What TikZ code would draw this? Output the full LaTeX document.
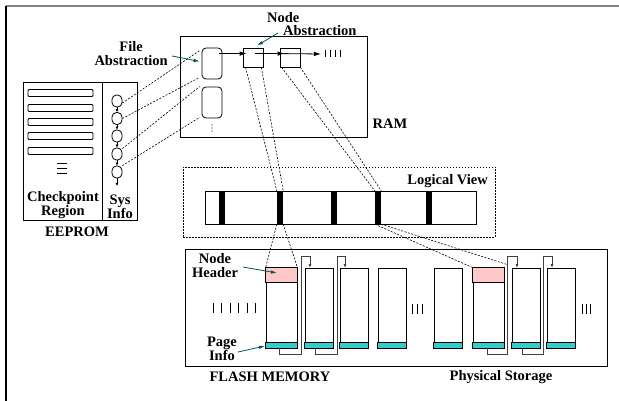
\documentclass[tikz,border=0pt]{standalone}
\usepackage{fontspec}
\setmainfont{Liberation Serif}
\usetikzlibrary{arrows.meta,calc}
\definecolor{hdrpink}{RGB}{255,200,200}
\definecolor{infocyan}{RGB}{50,205,205}
\definecolor{callout}{RGB}{0,85,85}
\tikzset{
  lbl/.style={font=\fontsize{14.5}{14}\selectfont\bfseries, inner sep=0pt, align=center},
  box/.style={draw, line width=0.8pt, inner sep=0pt, fill=white},
  map/.style={line width=0.6pt, dash pattern=on 2pt off 1.5pt},
  ptr/.style={line width=0.8pt, -{Latex[length=7pt,width=4.5pt]}},
  tinyptr/.style={line width=0.7pt, -{Latex[length=3pt,width=3pt]}},
  link/.style={draw=black!75, line width=0.8pt},
  linkend/.style={draw=black!75, line width=0.8pt, -{Latex[length=4pt,width=3pt]}},
  callarrow/.style={draw=callout, line width=0.8pt, -{Latex[length=6pt,width=3.5pt]}},
  page/.style={box, minimum height=80pt},
  slot/.style={box, minimum width=65pt, minimum height=7pt, rounded corners=1pt},
  sysrec/.style={box, minimum width=10pt, minimum height=12pt, rounded corners=4.5pt},
  filerec/.style={box, minimum width=20pt, minimum height=31pt, rounded corners=4pt},
  nodesq/.style={box, minimum width=20pt, minimum height=19pt},
  seg/.style={fill=black, inner sep=0pt, minimum width=6pt, minimum height=33pt},
}
\begin{document}
\begin{tikzpicture}[x=1pt,y=-1pt]
\useasboundingbox (0,0) rectangle (619,401);

% outer frame edges
\draw[black!50, line width=2pt] (6,6) -- (619,6);
\draw[black, line width=1.3pt] (6,6) -- (6,401);

% ---------------- EEPROM ----------------
\node[box, minimum width=114pt, minimum height=138pt] (eeprom) at (80,151) {};
\draw[line width=0.8pt] (102,82) -- (102,220);
\foreach \i/\y in {1/93,2/108,3/122,4/136,5/151}
  \node[slot] (slot\i) at (60.5,\y) {};
\foreach \y in {163,168,173}
  \draw[line width=0.6pt] (57,\y) -- (67,\y);
\foreach \i/\y in {1/101,2/118.5,3/136,4/154,5/172}
  \node[sysrec] (o\i) at (117,\y) {};
\draw[tinyptr] (o1.south) -- (o2.north);
\draw[tinyptr] (o2.south) -- (o3.north);
\draw[tinyptr] (o3.south) -- (o4.north);
\draw[tinyptr] (o4.south) -- (o5.north);
\coordinate (sysend) at (117,186);
\draw[tinyptr] (o5.south) -- (sysend);
\node[lbl] (cpreg) at (63,205) {Checkpoint\\Region};
\node[lbl] (sysinfo) at (120,207) {Sys\\Info};
\node[lbl] (eepromlbl) at (77,232) {EEPROM};

% ---------------- RAM ----------------
\node[box, minimum width=187pt, minimum height=101pt] (ram) at (273.5,86.5) {};
\node[lbl] (ramlbl) at (390,124) {RAM};
\node[filerec] (f1) at (212,63.5) {};
\node[filerec] (f2) at (212,102.5) {};
\foreach \y in {125,128,131}
  \fill (212,\y) circle (0.6pt);
\node[nodesq] (n1) at (253,57.5) {};
\node[nodesq] (n2) at (290,57.5) {};
\coordinate (ptrend) at (321,54);
\draw[ptr] ($(f1.north east)+(-3,6)$) -- ($(n1.north west)+(4,6)$);
\draw[ptr] ($(n1.north east)+(-8,6)$) -- ($(n2.north west)+(5,6)$);
\draw[ptr] ($(n2.north west)+(4,6)$) -- (ptrend);
\foreach \x in {325,330,335,340}
  \draw[line width=0.7pt] (\x,50) -- (\x,57);

\node[lbl, anchor=east] (filelbl) at (168,54) {File\\Abstraction};
\node[lbl, anchor=west] (nodelbl) at (267,17.5) {Node};
\node[lbl, anchor=west] (abslbl) at (283,31) {Abstraction};
\draw[callarrow] (172,56) -- ($(f1.west)+(-2,-2)$);
\draw[callarrow] (278,33) -- ($(n1.north)+(4,-2)$);

% sys info -> file abstraction
\draw[map] ($(o1.east)+(0,2)$) -- ($(f1.north west)+(-2,3)$);
\draw[map] (o2.east) -- ($(f1.south west)+(-2,-2)$);
\draw[map] ($(o4.north east)+(0,1)$) -- ($(f2.north west)+(-2,0)$);
\draw[map] ($(o5.north east)+(0,0)$) -- ($(f2.south west)+(-2,-1)$);

% ---------------- Logical view ----------------
\node[draw, line width=0.7pt, dash pattern=on 1.5pt off 1.5pt, minimum width=312pt, minimum height=70pt] (lview) at (339,202) {};
\node[lbl, anchor=east] (lviewlbl) at (488,181) {Logical View};
\node[box, minimum width=271pt, minimum height=33pt] (lbar) at (340.5,207.5) {};
\foreach \i/\x in {1/221.5,2/280,3/334,4/378,5/429}
  \node[seg] (seg\i) at (\x,207.5) {};

% node abstraction -> logical view
\draw[map] ($(n1.south west)+(3,0)$) -- (seg2.north west);
\draw[map] ($(n1.south east)+(-2,0)$) -- (seg2.north east);
\draw[map] ($(n2.south west)+(2,0)$) -- (seg4.north west);
\draw[map] (n2.south east) -- (seg4.north east);

% ---------------- Flash memory ----------------
\node[box, minimum width=422pt, minimum height=117pt] (flash) at (396,307.5) {};
\node[lbl] (flashlbl) at (270,377) {FLASH MEMORY};
\node[lbl] (physlbl) at (501,377) {Physical Storage};

\foreach \i/\x/\w in {1/281.5/31,2/319/28,3/354/28,4/392/28,5/448/28,6/488.5/31,7/526/28,8/561/28}{
  \node[page, minimum width=\w pt] (p\i) at (\x,308) {};
  \draw[line width=0.8pt, fill=infocyan] ($(p\i.south west)+(0,-6)$) rectangle (p\i.south east);
}
\draw[line width=0.8pt, fill=hdrpink] (p1.north west) rectangle ($(p1.north east)+(0,15)$);
\draw[line width=0.8pt, fill=hdrpink] (p6.north west) rectangle ($(p6.north east)+(0,15)$);

% page chains
\foreach \a/\b/\sx/\ux/\ex in {1/2/279/301/310, 2/3/315/337/345, 6/7/487/507/517, 7/8/522/543/552}{
  \draw[link] (\sx,348) -- (\sx,354) -- (\ux,354) -- (\ux,256) -- (\ex,256);
  \draw[linkend] (\ex,256) -- (\ex,268);
}

% continuation marks
\foreach \x in {213,221.5,230,238.5,247,255.5}
  \draw[line width=0.7pt] (\x,303) -- (\x,313);
\foreach \x in {412,417,422}
  \draw[line width=0.7pt] (\x,304) -- (\x,314);
\foreach \x in {582,586,590}
  \draw[line width=0.7pt] (\x,304) -- (\x,314);

% logical view -> flash pages
\draw[map] (seg2.south west) -- (p1.north west);
\draw[map] (seg2.south east) -- (p1.north east);
\draw[map] (seg4.south west) -- (p6.north west);
\draw[map] (seg4.south east) -- ($(p6.north east)+(3,-3)$);

\node[lbl] (hdrlbl) at (215,265.5) {Node\\Header};
\node[lbl] (infolbl) at (222,348.5) {Page\\Info};
\draw[callarrow] (243,267) -- (277,273);
\draw[callarrow] (238,352) -- (265,346);
\end{tikzpicture}
\end{document}
